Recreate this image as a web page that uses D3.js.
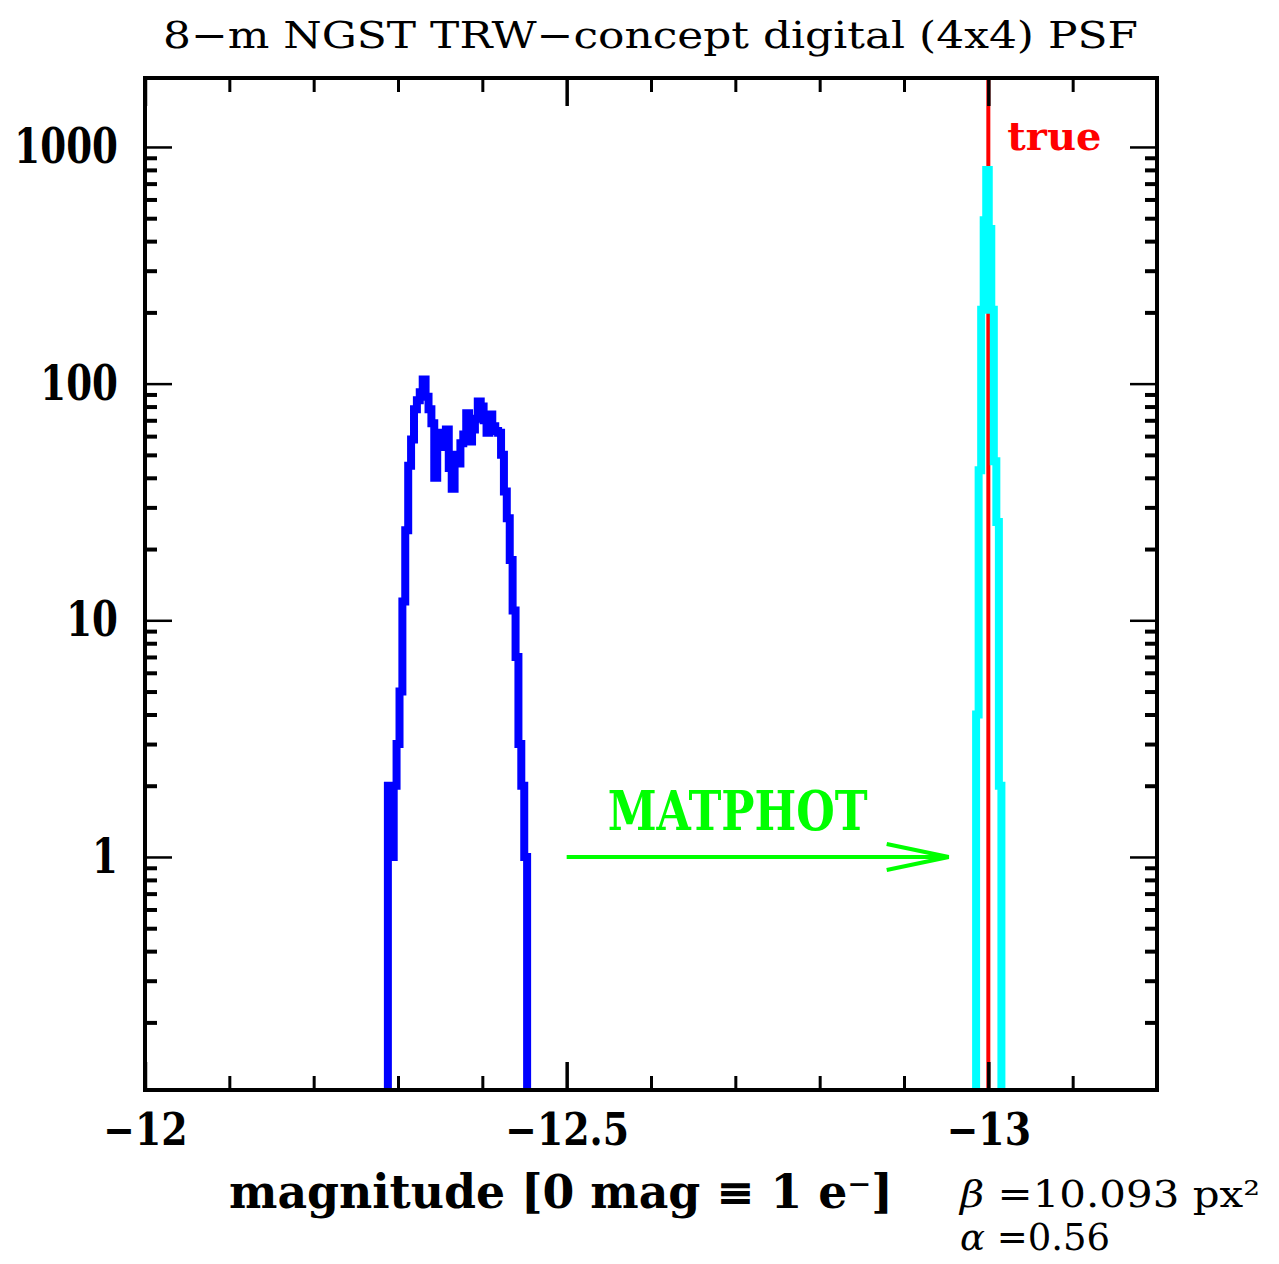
<!DOCTYPE html>
<html>
<head>
<meta charset="utf-8">
<script src="https://cdn.jsdelivr.net/npm/d3@7"></script>
<style>
  body { margin: 0; background: #fff; }
  svg { display: block; }
</style>
</head>
<body>
<svg id="canvas"></svg>
<script>
// axis limits and ticks
let xLimits = [-12, -13.2]
let yLimits = [0.1036, 1956]
let xMajor = [-12, -12.5, -13]
let xMinor = [-12.1, -12.2, -12.3, -12.4, -12.6, -12.7, -12.8, -12.9, -13.1]
let yMajor = [1, 10, 100, 1000]
let yMinor = [0.2, 0.3, 0.4, 0.5, 0.6, 0.7, 0.8, 0.9,
    2, 3, 4, 5, 6, 7, 8, 9,
    20, 30, 40, 50, 60, 70, 80, 90,
    200, 300, 400, 500, 600, 700, 800, 900]

// initial-guess histogram (blue): bin edges and counts
let blueEdges = [-12.2880, -12.2914, -12.2949, -12.2983, -12.3018, -12.3052, -12.3086, -12.3121,
    -12.3155, -12.3190, -12.3224, -12.3258, -12.3293, -12.3327, -12.3362, -12.3396,
    -12.3430, -12.3465, -12.3499, -12.3534, -12.3568, -12.3602, -12.3637, -12.3671,
    -12.3706, -12.3740, -12.3774, -12.3809, -12.3843, -12.3878, -12.3912, -12.3946,
    -12.3981, -12.4015, -12.4050, -12.4084, -12.4118, -12.4153, -12.4187, -12.4222,
    -12.4256, -12.4290, -12.4325, -12.4359, -12.4394, -12.4428, -12.4462, -12.4497, -12.4531]
let blueCounts = [2, 1, 2, 3, 5, 12, 24, 45, 58, 78, 85, 92, 104, 88, 78, 68,
    40, 62, 57, 54, 64, 44, 36, 50, 46, 56, 61, 75, 57, 64, 71, 84,
    80, 70, 62, 74, 66, 63, 62, 50, 35, 27, 18, 11, 7, 3, 2, 1]

// MATPHOT histogram (cyan)
let cyanEdges = [-12.9855, -12.9885, -12.9915, -12.9945, -12.9975, -13.0005,
    -13.0035, -13.0065, -13.0095, -13.0125, -13.0155]
let cyanCounts = [4, 43, 205, 490, 800, 450, 205, 47, 26, 2]

let trueMag = -13.0
let arrowFrom = -12.5
let arrowTo = -12.953
let arrowLevel = 1

let canvas = d3.select("#canvas")
    .attr("width", 1279)
    .attr("height", 1264)

canvas.append("rect")
    .attr("width", 1279)
    .attr("height", 1264)
    .attr("fill", "#fff")

let x = d3.scaleLinear().domain(xLimits).range([145, 1157])
let y = d3.scaleLog().domain(yLimits).range([1090, 78])

canvas.append("clipPath")
    .attr("id", "plot-clip")
    .append("rect")
    .attr("x", 145)
    .attr("y", 78)
    .attr("width", 1012)
    .attr("height", 1012)

let stepPoints = (edges, counts) => {
    let floor = yLimits[0]
    let pts = [[edges[0], floor]]
    counts.forEach((c, i) => {
        pts.push([edges[i], c])
    })
    pts.push([edges[edges.length - 1], counts[counts.length - 1]])
    pts.push([edges[edges.length - 1], floor])
    return pts
}

let stepLine = d3.line()
    .x((d) => x(d[0]))
    .y((d) => y(d[1]))
    .curve(d3.curveStepAfter)

let plot = canvas.append("g").attr("clip-path", "url(#plot-clip)")

plot.append("line")
    .attr("x1", x(trueMag))
    .attr("x2", x(trueMag))
    .attr("y1", y(yLimits[1]))
    .attr("y2", y(yLimits[0]))
    .attr("stroke", "#ff0000")
    .attr("stroke-width", 4)

plot.append("path")
    .attr("d", stepLine(stepPoints(blueEdges, blueCounts)))
    .attr("fill", "none")
    .attr("stroke", "#0000ff")
    .attr("stroke-width", 8)

plot.append("path")
    .attr("d", stepLine(stepPoints(cyanEdges, cyanCounts)))
    .attr("fill", "none")
    .attr("stroke", "#00ffff")
    .attr("stroke-width", 8)

// ticks on all four sides, pointing inward
let drawTicks = (axis, transform, width) => {
    let g = canvas.append("g")
        .attr("transform", transform)
        .call(axis)
    g.select(".domain").remove()
    g.selectAll(".tick line").attr("stroke", "#000").attr("stroke-width", width)
    return g
}

drawTicks(d3.axisBottom(x).tickValues(xMinor).tickSize(-14).tickFormat(""), "translate(0,1090)", 3)
drawTicks(d3.axisTop(x).tickValues(xMinor).tickSize(-14).tickFormat(""), "translate(0,78)", 3)
drawTicks(d3.axisTop(x).tickValues(xMajor).tickSize(-28).tickFormat(""), "translate(0,78)", 3.5)
let xLab = drawTicks(d3.axisBottom(x).tickValues(xMajor).tickSizeInner(-28).tickSizeOuter(0)
    .tickPadding(24).tickFormat(d3.format("")), "translate(0,1090)", 3.5)

drawTicks(d3.axisLeft(y).tickValues(yMinor).tickSize(-12).tickFormat(""), "translate(145,0)", 4)
drawTicks(d3.axisRight(y).tickValues(yMinor).tickSize(-12).tickFormat(""), "translate(1157,0)", 4)
drawTicks(d3.axisRight(y).tickValues(yMajor).tickSize(-27).tickFormat(""), "translate(1157,0)", 2.5)
let yLab = drawTicks(d3.axisLeft(y).tickValues(yMajor).tickSizeInner(-27).tickSizeOuter(0)
    .tickPadding(27).tickFormat(d3.format("")), "translate(145,0)", 2.5)

let squeeze = (sel, factor) => {
    sel.each(function () {
        let w = this.getComputedTextLength()
        d3.select(this)
            .attr("textLength", w * factor)
            .attr("lengthAdjust", "spacingAndGlyphs")
    })
}

xLab.selectAll("text")
    .attr("fill", "#000")
    .style("font-family", "DejaVu Serif")
    .style("font-weight", "bold")
    .style("font-size", "44px")
squeeze(xLab.selectAll("text"), 0.86)

yLab.selectAll("text")
    .attr("fill", "#000")
    .style("font-family", "DejaVu Serif")
    .style("font-weight", "bold")
    .style("font-size", "49px")
squeeze(yLab.selectAll("text"), 0.76)

canvas.append("rect")
    .attr("x", 145)
    .attr("y", 78)
    .attr("width", 1012)
    .attr("height", 1012)
    .attr("fill", "none")
    .attr("stroke", "#000")
    .attr("stroke-width", 4)

// arrow + labels
let ay = y(arrowLevel)
let tipX = x(arrowTo)
canvas.append("line")
    .attr("x1", x(arrowFrom))
    .attr("x2", tipX)
    .attr("y1", ay)
    .attr("y2", ay)
    .attr("stroke", "#00ff00")
    .attr("stroke-width", 4)
canvas.append("path")
    .attr("d", `M${tipX - 62},${ay - 13}L${tipX},${ay}L${tipX - 62},${ay + 13}`)
    .attr("fill", "none")
    .attr("stroke", "#00ff00")
    .attr("stroke-width", 4)

canvas.append("text")
    .attr("x", (x(arrowFrom) + tipX) / 2 - 20)
    .attr("y", ay - 27)
    .attr("text-anchor", "middle")
    .attr("fill", "#00ff00")
    .style("font-family", "DejaVu Serif")
    .style("font-weight", "bold")
    .style("font-size", "55px")
    .text("MATPHOT")
    .attr("textLength", 260)
    .attr("lengthAdjust", "spacingAndGlyphs")

canvas.append("text")
    .attr("x", x(trueMag) + 19)
    .attr("y", 150)
    .attr("fill", "#ff0000")
    .style("font-family", "DejaVu Serif")
    .style("font-weight", "bold")
    .style("font-size", "40px")
    .text("true")

canvas.append("text")
    .attr("x", 163)
    .attr("y", 48)
    .attr("fill", "#000")
    .style("font-family", "DejaVu Serif")
    .style("font-size", "37px")
    .text("8\u2212m NGST TRW\u2212concept digital (4x4) PSF")
    .attr("textLength", 975)
    .attr("lengthAdjust", "spacingAndGlyphs")

canvas.append("text")
    .attr("x", 229)
    .attr("y", 1208)
    .attr("fill", "#000")
    .style("font-family", "DejaVu Serif")
    .style("font-weight", "bold")
    .style("font-size", "46px")
    .text("magnitude [0 mag \u2261 1 e\u207B]")
    .attr("textLength", 664)
    .attr("lengthAdjust", "spacingAndGlyphs")

let beta = canvas.append("text")
    .attr("x", 960)
    .attr("y", 1207)
    .attr("fill", "#000")
    .style("font-family", "DejaVu Serif")
    .style("font-size", "37px")
beta.append("tspan").style("font-style", "italic").text("\u03B2")
beta.append("tspan").text(" =10.093 px\u00B2")
beta.attr("textLength", 300).attr("lengthAdjust", "spacingAndGlyphs")

let alpha = canvas.append("text")
    .attr("x", 960)
    .attr("y", 1250)
    .attr("fill", "#000")
    .style("font-family", "DejaVu Serif")
    .style("font-size", "37px")
alpha.append("tspan").style("font-style", "italic").text("\u03B1")
alpha.append("tspan").text(" =0.56")
</script>
</body>
</html>
